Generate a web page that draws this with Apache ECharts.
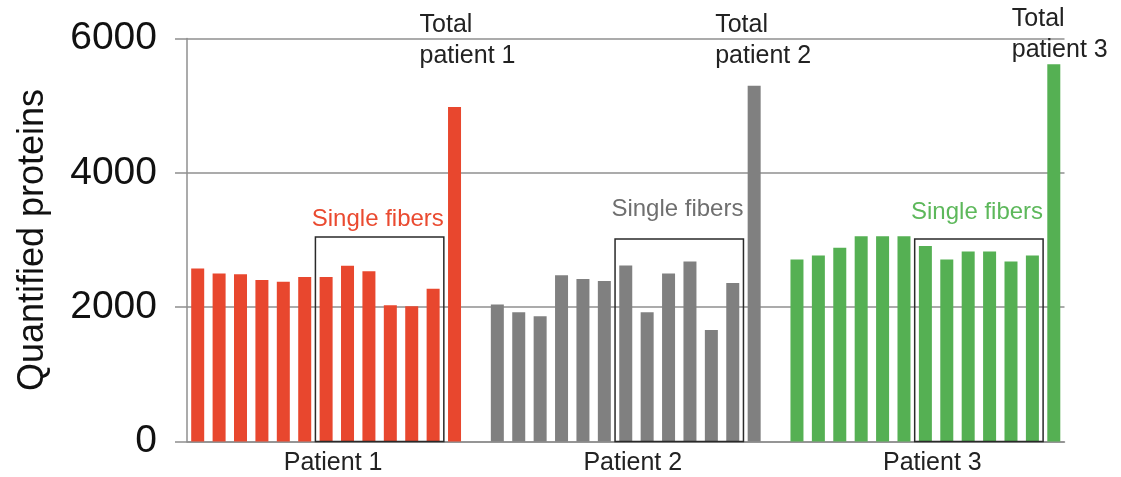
<!DOCTYPE html>
<html><head><meta charset="utf-8">
<script src="https://cdn.jsdelivr.net/npm/echarts@6/dist/echarts.min.js"></script>
<style>html,body{margin:0;padding:0;background:#fff}#c{width:1121px;height:477px}</style>
</head><body><div id="c"></div>
<script>
// ---- data ----
const patients = ['Patient 1', 'Patient 2', 'Patient 3'];
const totalLabels = ['Total\npatient 1', 'Total\npatient 2', 'Total\npatient 3'];
const fiberLabel = 'Single fibers';
const p1Fibers = [2575, 2500, 2490, 2405, 2380, 2450, 2450, 2615, 2535, 2030, 2015, 2275];
const p2Fibers = [2040, 1925, 1865, 2475, 2420, 2390, 2620, 1925, 2500, 2680, 1660, 2360];
const p3Fibers = [2710, 2770, 2885, 3055, 3055, 3055, 2910, 2710, 2830, 2830, 2680, 2770];
const totals = [4980, 5295, 5615];
const boxTop = [3045, 3015, 3015];     // top of "Single fibers" boxes
const boxFirst = 6, boxLast = 11;      // fibers inside the box (0-based)
const yMin = 0, yMax = 6000, yStep = 2000;

// ---- styles ----
const colors = ['#E8472E', '#808080', '#55B053'];
const fiberTextColors = ['#EA4A30', '#6F6F6F', '#5DB85B'];
const fiberTextGap = [6, 18, 15];
const totalLabelDx = [-35, -39, -42];
const totalLabelDy = [2, 2, -4];
const FONT = '"Liberation Sans", Arial, Helvetica, sans-serif';

// ---- build categories ----
const allFibers = [p1Fibers, p2Fibers, p3Fibers];
const categories = [];
const groupStart = [];
allFibers.forEach((f, p) => {
  groupStart.push(categories.length);
  f.forEach((_, i) => categories.push('P' + (p + 1) + ' fiber ' + (i + 1)));
  categories.push('P' + (p + 1) + ' total');
  if (p < allFibers.length - 1) categories.push('gap ' + (p + 1));
});
const labelIdx = groupStart.map(s => s + 6);

const barSeries = allFibers.map((f, p) => {
  const data = categories.map(() => '-');
  f.forEach((v, i) => { data[groupStart[p] + i] = v; });
  data[groupStart[p] + f.length] = totals[p];
  return {
    type: 'bar', name: patients[p], data: data, barWidth: 13, barGap: '-100%',
    itemStyle: { color: colors[p] }, z: 2, animation: false
  };
});

const boxData = allFibers.map((f, p) => [groupStart[p] + boxFirst, groupStart[p] + boxLast, boxTop[p], p]);
const totalData = allFibers.map((f, p) => [groupStart[p] + f.length, yMax, p]);

const chart = echarts.init(document.getElementById('c'), null, { renderer: 'canvas' });
chart.setOption({
  animation: false,
  grid: { left: 187, right: 56.5, top: 38.5, bottom: 35.5 },
  xAxis: {
    type: 'category', data: categories,
    axisLine: { show: true, lineStyle: { color: '#8f8f8f', width: 1.5 } },
    axisTick: { show: false },
    axisLabel: {
      interval: (i) => labelIdx.indexOf(i) >= 0,
      formatter: (v, i) => patients[labelIdx.indexOf(i)] || '',
      fontFamily: FONT, fontSize: 25, color: '#222', margin: 9,
      padding: [0, 0, 0, 14]
    }
  },
  yAxis: {
    type: 'value', min: yMin, max: yMax, interval: yStep,
    name: 'Quantified proteins', nameLocation: 'middle', nameGap: 136,
    nameTextStyle: { fontFamily: FONT, fontSize: 36, color: '#111' },
    axisLine: { show: true, lineStyle: { color: '#8f8f8f', width: 1.5 } },
    axisTick: { show: true, length: 12, lineStyle: { color: '#8f8f8f', width: 1.5 } },
    axisLabel: { fontFamily: FONT, fontSize: 39, color: '#111', margin: 30,
                 formatter: (v) => String(v) },
    splitLine: { show: true, lineStyle: { color: '#8f8f8f', width: 1.5 } }
  },
  series: barSeries.concat([
    {
      type: 'custom', data: boxData, z: 5, encode: { x: 0, y: 2 }, silent: true,
      renderItem: (params, api) => {
        const s = api.value(0), e = api.value(1), top = api.value(2), p = api.value(3);
        const a = api.coord([s, top]);
        const b = api.coord([e, 0]);
        const bw = api.size([1, 0])[0];
        const x0 = a[0] - bw / 2, x1 = b[0] + bw / 2;
        return {
          type: 'group', children: [
            { type: 'rect', shape: { x: x0, y: a[1], width: x1 - x0, height: b[1] - a[1] },
              style: { fill: 'none', stroke: '#2a2a2a', lineWidth: 1.5 } },
            { type: 'text', x: x1, y: a[1] - fiberTextGap[p],
              style: { text: fiberLabel, align: 'right', verticalAlign: 'bottom',
                       fill: fiberTextColors[p], font: '24px ' + FONT } }
          ]
        };
      }
    },
    {
      type: 'custom', data: totalData, z: 6, encode: { x: 0, y: 1 }, silent: true,
      renderItem: (params, api) => {
        const idx = api.value(0), yv = api.value(1), p = api.value(2);
        const c = api.coord([idx, yv]);
        return {
          type: 'text', x: c[0] + totalLabelDx[p], y: c[1] + totalLabelDy[p],
          style: { text: totalLabels[p], align: 'left', verticalAlign: 'middle',
                   fill: '#222', font: '25px ' + FONT, lineHeight: 31 }
        };
      }
    }
  ])
});
</script>
</body></html>
